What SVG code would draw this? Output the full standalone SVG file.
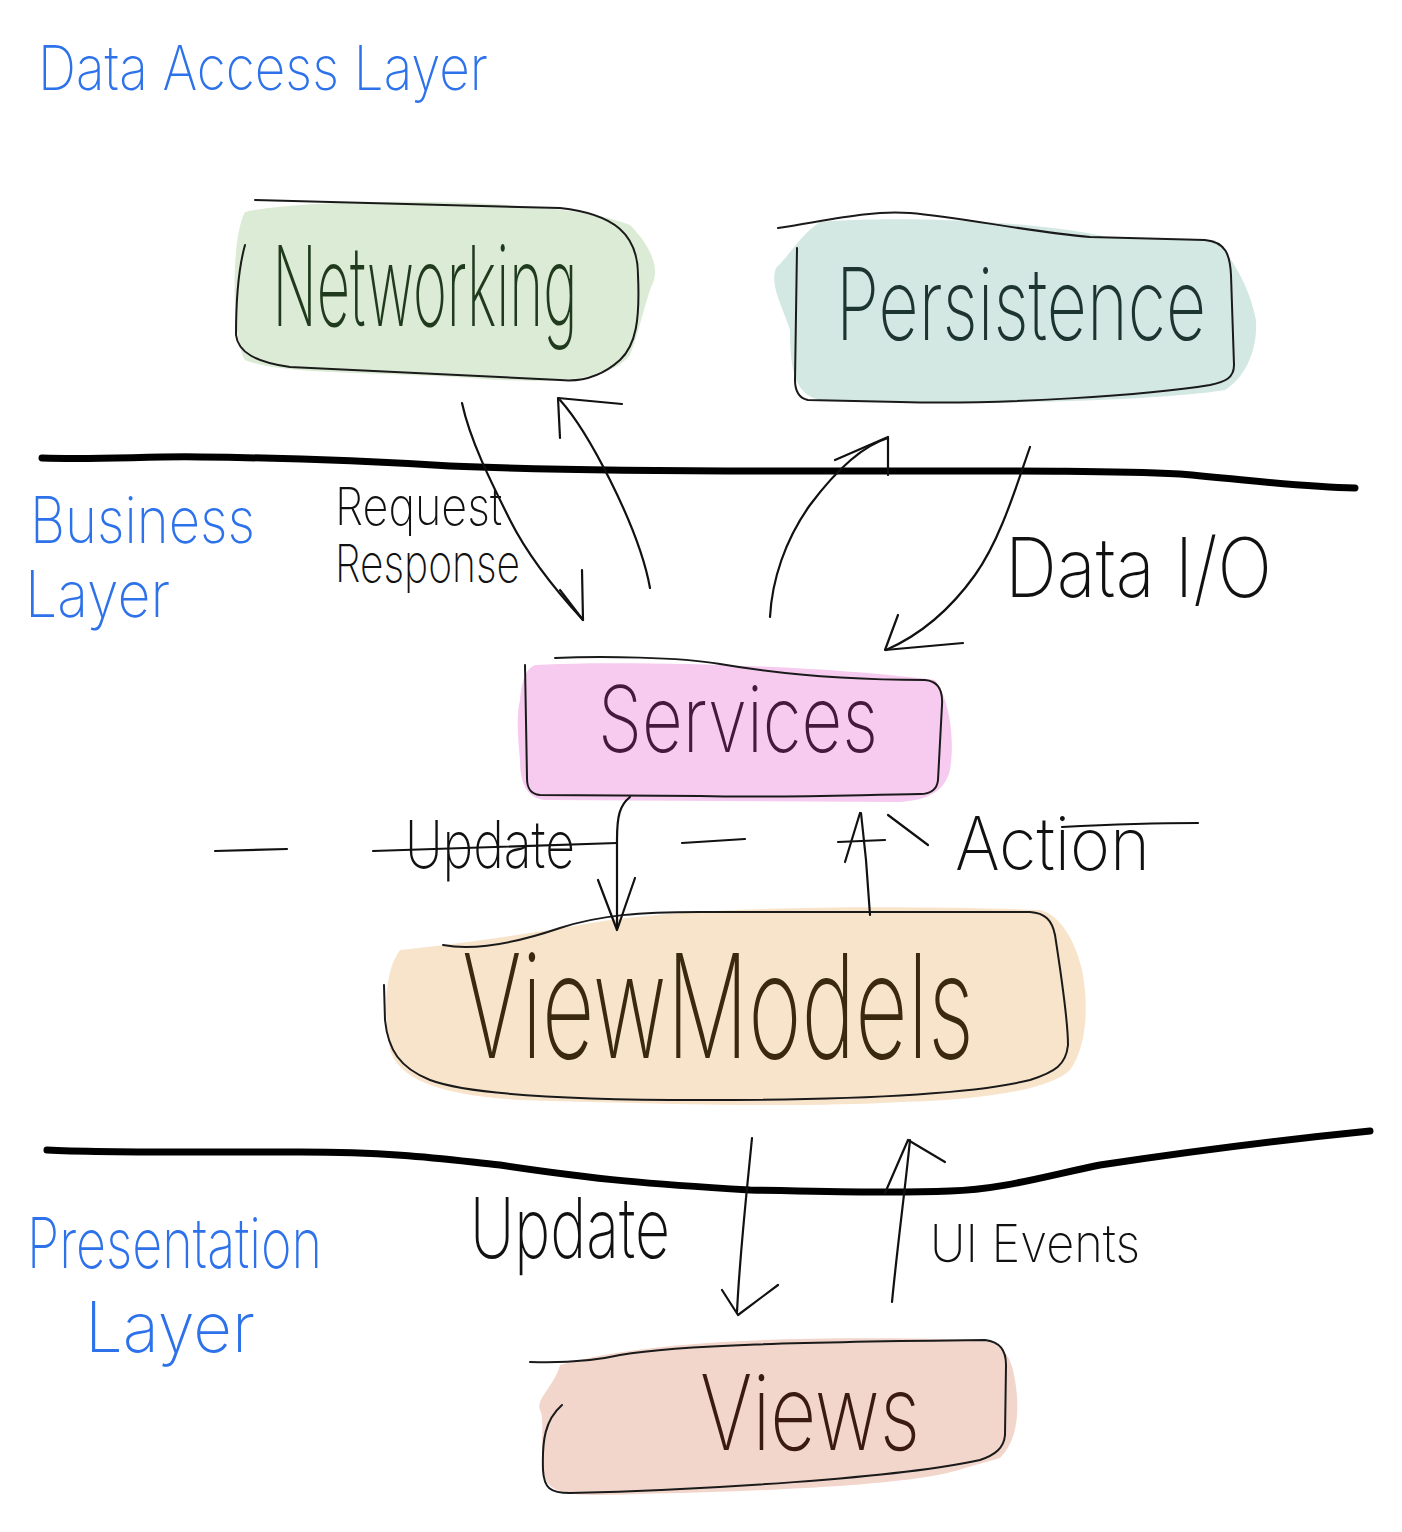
<svg xmlns="http://www.w3.org/2000/svg" width="1402" height="1532" viewBox="0 0 1402 1532">
<defs>
<style>
.hw{font-family:"Inter","Liberation Sans",sans-serif;font-weight:200;}
.mid{text-anchor:middle;}
.layer{fill:#2d72ea;}
.lbl{fill:#111111;}
.ink{fill:none;stroke:#111111;stroke-width:2.2;stroke-linecap:round;stroke-linejoin:round;}
.box{fill:none;stroke:#1a1a1a;stroke-width:2;stroke-linecap:round;stroke-linejoin:round;}
.sep{fill:none;stroke:#000000;stroke-width:7;stroke-linecap:round;stroke-linejoin:round;}
</style>
</defs>
<rect width="1402" height="1532" fill="#ffffff"/>

<g id="layer-labels" class="hw layer">
<text x="38" y="90" font-size="62" textLength="450" lengthAdjust="spacingAndGlyphs">Data Access Layer</text>
<text x="30" y="543" font-size="64" textLength="225" lengthAdjust="spacingAndGlyphs">Business</text>
<text x="25" y="617" font-size="64" textLength="145" lengthAdjust="spacingAndGlyphs">Layer</text>
<text x="27" y="1268" font-size="70" textLength="295" lengthAdjust="spacingAndGlyphs">Presentation</text>
<text x="85" y="1352" font-size="70" textLength="170" lengthAdjust="spacingAndGlyphs">Layer</text>
</g>

<g id="separators">
<path class="sep" d="M42,458 C100,460 150,456 200,457 C300,458 400,463 450,466 C550,470 650,471 800,471 C1000,471 1100,470 1180,474 C1250,480 1300,487 1355,488"/>
<path class="sep" d="M47,1150 C100,1153 200,1152 300,1152 C400,1152 450,1160 500,1165 C600,1180 650,1184 750,1190 C850,1192 900,1193 950,1191 C1000,1190 1050,1175 1100,1165 C1200,1150 1300,1138 1370,1131"/>
<g class="ink">
<path d="M215,851 L287,849"/>
<path d="M373,851 L617,843"/>
<path d="M682,843 L745,839"/>
<path d="M838,842 L885,840"/>
<path d="M888,815 L928,845"/>
<path d="M1062,827 C1120,824 1170,823 1198,823"/>
</g>
</g>

<g id="node-networking">
<path d="M245,212 C300,198 560,195 630,225 C650,245 658,265 654,280 C645,300 640,330 630,355 C610,380 560,385 470,378 C380,372 280,375 245,360 C232,340 230,240 245,212 Z" fill="#dcebd5"/>
<path class="box" d="M255,200 L560,208 C615,214 638,235 638,275 C640,320 636,345 620,360 C600,378 580,382 560,380 L290,367 C255,362 238,352 236,335 C236,300 238,270 245,245"/>
<text class="hw mid" x="425" y="326" font-size="112" textLength="305" lengthAdjust="spacingAndGlyphs" fill="#1f3a1c">Networking</text>
</g>

<g id="node-persistence">
<path d="M820,222 C900,215 1050,222 1110,238 L1215,240 C1235,260 1250,290 1256,320 C1258,350 1245,378 1225,390 C1150,402 950,406 820,400 C795,395 790,370 790,330 C780,300 770,285 776,268 C790,255 800,235 820,222 Z" fill="#d3e8e2"/>
<path class="box" d="M778,228 C830,220 870,210 910,213 C960,217 1030,232 1090,237 L1205,240 C1226,242 1230,255 1231,275 L1234,365 C1234,378 1225,382 1210,385 C1150,395 1000,405 900,402 L808,400 C798,398 795,390 795,380 L797,248"/>
<text class="hw mid" x="1021" y="340" font-size="100" textLength="370" lengthAdjust="spacingAndGlyphs" fill="#1c3530">Persistence</text>
</g>

<g id="node-services">
<path d="M535,665 C620,660 820,665 935,680 C950,700 955,740 950,770 C945,790 930,800 900,802 L545,800 C525,798 520,780 520,760 C518,740 516,715 520,700 C522,680 525,670 535,665 Z" fill="#f6cbef"/>
<path class="box" d="M555,658 C600,656 680,657 720,664 C790,676 860,680 925,680 C938,681 943,690 942,705 L938,780 C937,790 930,794 920,794 C850,795 780,798 700,796 L540,795 C530,794 527,788 527,778 L525,665"/>
<text class="hw mid" x="738" y="752" font-size="92" textLength="280" lengthAdjust="spacingAndGlyphs" fill="#45183d">Services</text>
</g>

<g id="node-viewmodels">
<path d="M400,950 C450,945 520,935 580,925 C680,905 900,905 1040,910 C1060,915 1075,940 1082,970 C1090,1010 1085,1050 1070,1070 C1050,1090 980,1100 900,1102 C800,1108 650,1104 520,1100 C440,1095 400,1080 390,1050 C383,1010 385,970 400,950 Z" fill="#f8e4cb"/>
<path class="box" d="M443,945 C470,950 510,945 560,928 C600,915 640,912 700,912 L1030,912 C1045,913 1052,920 1055,935 C1062,980 1068,1020 1068,1045 C1066,1065 1055,1072 1030,1080 C970,1095 850,1100 700,1100 C580,1100 470,1095 430,1080 C400,1068 388,1050 385,1020 L384,985"/>
<text class="hw mid" x="718" y="1058" font-size="145" textLength="512" lengthAdjust="spacingAndGlyphs" fill="#3a2810">ViewModels</text>
</g>

<g id="node-views">
<path d="M560,1365 C650,1340 800,1335 985,1340 C1005,1345 1012,1360 1015,1380 C1020,1410 1018,1440 1000,1458 L965,1468 C930,1480 850,1490 600,1495 C560,1495 545,1490 543,1470 C540,1440 545,1420 540,1410 C535,1400 555,1385 560,1365 Z" fill="#f2d6cc"/>
<path class="box" d="M530,1362 C560,1363 590,1362 620,1355 C680,1345 800,1342 985,1340 C1000,1342 1006,1350 1006,1365 L1005,1435 C1004,1448 995,1455 980,1460 C900,1478 700,1490 570,1493 C550,1493 544,1488 543,1470 C542,1440 545,1420 562,1405"/>
<text class="hw mid" x="810" y="1450" font-size="105" textLength="220" lengthAdjust="spacingAndGlyphs" fill="#3a1a12">Views</text>
</g>

<g id="connectors" class="ink">
<path d="M462,403 C470,440 490,480 510,520 C530,560 560,595 583,620"/>
<path d="M560,590 L583,620 L582,570"/>
<path d="M650,588 C645,560 630,520 610,480 C595,450 578,420 560,400"/>
<path d="M560,438 L558,398 L622,404"/>
<path d="M770,617 C772,580 785,540 810,505 C840,465 865,445 888,438"/>
<path d="M835,460 L888,437 L888,475"/>
<path d="M1030,447 C1015,490 1000,540 975,575 C950,610 920,635 886,650"/>
<path d="M898,615 L885,650 L963,643"/>
<path d="M630,797 C620,805 617,815 617,840 L617,928"/>
<path d="M598,880 L617,930 L635,878"/>
<path d="M870,915 L866,860 L861,813"/>
<path d="M845,862 L860,813"/>
<path d="M752,1138 C748,1180 740,1250 737,1312"/>
<path d="M722,1290 L738,1315 L778,1285"/>
<path d="M892,1302 C897,1250 905,1190 910,1140"/>
<path d="M885,1193 L908,1140 L945,1162"/>
</g>

<g id="connector-labels" class="hw lbl">
<text x="335" y="525" font-size="52" textLength="167" lengthAdjust="spacingAndGlyphs">Request</text>
<text x="335" y="582" font-size="52" textLength="185" lengthAdjust="spacingAndGlyphs">Response</text>
<text x="1005" y="597" font-size="82" textLength="267" lengthAdjust="spacingAndGlyphs">Data I/O</text>
<text x="405" y="868" font-size="66" textLength="170" lengthAdjust="spacingAndGlyphs">Update</text>
<text x="955" y="870" font-size="74" textLength="195" lengthAdjust="spacingAndGlyphs">Action</text>
<text x="470" y="1258" font-size="84" textLength="200" lengthAdjust="spacingAndGlyphs">Update</text>
<text x="930" y="1262" font-size="52" textLength="210" lengthAdjust="spacingAndGlyphs">UI Events</text>
</g>
</svg>
